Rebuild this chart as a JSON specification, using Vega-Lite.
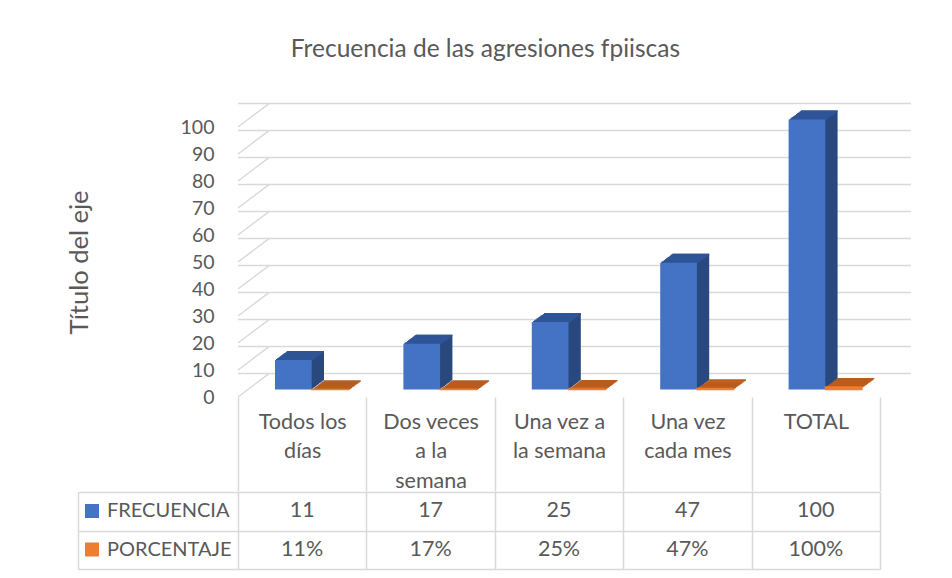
{
  "$schema": "https://vega.github.io/schema/vega-lite/v6.json",
  "autosize": "none",
  "padding": {"left": 238, "top": 127, "right": 72, "bottom": 451},
  "background": "white",
  "title": {"text": "Frecuencia de las agresiones fpiiscas", "fontSize": 24.5, "fontWeight": "normal", "color": "#595959", "font": "Lato", "anchor": "middle", "frame": "bounds", "offset": 40, "dx": -4},
  "datasets": {
    "bars": [
      {"cat": "Todos los días", "series": "FRECUENCIA", "value": 11},
      {"cat": "Dos veces a la semana", "series": "FRECUENCIA", "value": 17},
      {"cat": "Una vez a la semana", "series": "FRECUENCIA", "value": 25},
      {"cat": "Una vez cada mes", "series": "FRECUENCIA", "value": 47},
      {"cat": "TOTAL", "series": "FRECUENCIA", "value": 100},
      {"cat": "Todos los días", "series": "PORCENTAJE", "value": 0.11},
      {"cat": "Dos veces a la semana", "series": "PORCENTAJE", "value": 0.17},
      {"cat": "Una vez a la semana", "series": "PORCENTAJE", "value": 0.25},
      {"cat": "Una vez cada mes", "series": "PORCENTAJE", "value": 0.47},
      {"cat": "TOTAL", "series": "PORCENTAJE", "value": 1}
    ],
    "ticks": [{"value": 0}, {"value": 10}, {"value": 20}, {"value": 30}, {"value": 40}, {"value": 50}, {"value": 60}, {"value": 70}, {"value": 80}, {"value": 90}, {"value": 100}]
  },
  "bounds": "flush",
  "spacing": 95,
  "config": {
    "view": {"stroke": null},
    "font": "Lato",
    "axis": {"labelFont": "Lato", "titleFont": "Lato"},
    "legend": {"labelFont": "Lato"}
  },
  "vconcat": [
    {
      "width": 642,
      "height": 270,
      "encoding": {
        "y": {"field": "value", "type": "quantitative", "scale": {"domain": [0, 100], "nice": false},
          "axis": {"title": "Título del eje", "values": [0, 10, 20, 30, 40, 50, 60, 70, 80, 90, 100], "labelOverlap": false, "domain": false, "ticks": false, "grid": false, "labelPadding": 24, "labelFontSize": 19.5, "labelColor": "#595959", "titleFontSize": 25.5, "titleFontWeight": "normal", "titleColor": "#595959", "titlePadding": 88}}
      },
      "layer": [
        {
          "data": {"name": "ticks"},
          "mark": {"type": "rule", "color": "#D9D9D9", "strokeWidth": 1.5, "xOffset": 31, "x2Offset": 31, "yOffset": -23.4}
        },
        {
          "data": {"name": "ticks"},
          "mark": {"type": "rule", "color": "#D9D9D9", "strokeWidth": 1.5, "y2Offset": -23.4},
          "encoding": {
            "y2": {"field": "value"},
            "x": {"value": 0},
            "x2": {"value": 31}
          }
        },
        {
          "data": {"name": "bars"},
          "encoding": {
            "x": {"field": "cat", "type": "nominal", "sort": null, "scale": {"paddingInner": 0, "paddingOuter": 0},
              "axis": {"title": null, "domain": false, "ticks": true, "tickBand": "extent", "tickSize": 94, "tickColor": "#D9D9D9", "tickWidth": 1.5, "labelAngle": 0, "labelBaseline": "top", "labelLineHeight": 29.5, "labelPadding": -80, "labelFontSize": 21.5, "labelColor": "#595959", "labelLimit": 0,
                "labelExpr": "datum.value === 'Todos los días' ? ['Todos los', 'días'] : datum.value === 'Dos veces a la semana' ? ['Dos veces', 'a la', 'semana'] : datum.value === 'Una vez a la semana' ? ['Una vez a', 'la semana'] : datum.value === 'Una vez cada mes' ? ['Una vez', 'cada mes'] : datum.label"}}
          },
          "layer": [
            {"transform": [{"filter": "datum.series === 'FRECUENCIA'"}], "mark": {"type": "bar", "width": 36.7, "fill": "#29487E", "xOffset": -7.62, "yOffset": -8.3, "y2Offset": -8.3}},
            {"transform": [{"filter": "datum.series === 'FRECUENCIA'"}], "mark": {"type": "bar", "width": 36.7, "fill": "#29487E", "xOffset": -6.39, "yOffset": -9.2, "y2Offset": -9.2}},
            {"transform": [{"filter": "datum.series === 'FRECUENCIA'"}], "mark": {"type": "bar", "width": 36.7, "fill": "#29487E", "xOffset": -5.16, "yOffset": -10.1, "y2Offset": -10.1}},
            {"transform": [{"filter": "datum.series === 'FRECUENCIA'"}], "mark": {"type": "bar", "width": 36.7, "fill": "#29487E", "xOffset": -3.93, "yOffset": -11.0, "y2Offset": -11.0}},
            {"transform": [{"filter": "datum.series === 'FRECUENCIA'"}], "mark": {"type": "bar", "width": 36.7, "fill": "#29487E", "xOffset": -2.7, "yOffset": -11.9, "y2Offset": -11.9}},
            {"transform": [{"filter": "datum.series === 'FRECUENCIA'"}], "mark": {"type": "bar", "width": 36.7, "fill": "#29487E", "xOffset": -1.47, "yOffset": -12.8, "y2Offset": -12.8}},
            {"transform": [{"filter": "datum.series === 'FRECUENCIA'"}], "mark": {"type": "bar", "width": 36.7, "fill": "#29487E", "xOffset": -0.24, "yOffset": -13.7, "y2Offset": -13.7}},
            {"transform": [{"filter": "datum.series === 'FRECUENCIA'"}], "mark": {"type": "bar", "width": 36.7, "fill": "#29487E", "xOffset": 0.99, "yOffset": -14.6, "y2Offset": -14.6}},
            {"transform": [{"filter": "datum.series === 'FRECUENCIA'"}], "mark": {"type": "bar", "width": 36.7, "fill": "#29487E", "xOffset": 2.22, "yOffset": -15.5, "y2Offset": -15.5}},
            {"transform": [{"filter": "datum.series === 'FRECUENCIA'"}], "mark": {"type": "bar", "width": 36.7, "fill": "#29487E", "xOffset": 3.45, "yOffset": -16.4, "y2Offset": -16.4}},
            {"transform": [{"filter": "datum.series === 'FRECUENCIA'"}], "mark": {"type": "bar", "width": 36.7, "fill": "#2F5597", "xOffset": -7.62, "yOffset": -8.3, "y2Offset": -6.7}, "encoding": {"y2": {"field": "value"}}},
            {"transform": [{"filter": "datum.series === 'FRECUENCIA'"}], "mark": {"type": "bar", "width": 36.7, "fill": "#2F5597", "xOffset": -6.39, "yOffset": -9.2, "y2Offset": -7.6}, "encoding": {"y2": {"field": "value"}}},
            {"transform": [{"filter": "datum.series === 'FRECUENCIA'"}], "mark": {"type": "bar", "width": 36.7, "fill": "#2F5597", "xOffset": -5.16, "yOffset": -10.1, "y2Offset": -8.5}, "encoding": {"y2": {"field": "value"}}},
            {"transform": [{"filter": "datum.series === 'FRECUENCIA'"}], "mark": {"type": "bar", "width": 36.7, "fill": "#2F5597", "xOffset": -3.93, "yOffset": -11.0, "y2Offset": -9.4}, "encoding": {"y2": {"field": "value"}}},
            {"transform": [{"filter": "datum.series === 'FRECUENCIA'"}], "mark": {"type": "bar", "width": 36.7, "fill": "#2F5597", "xOffset": -2.7, "yOffset": -11.9, "y2Offset": -10.3}, "encoding": {"y2": {"field": "value"}}},
            {"transform": [{"filter": "datum.series === 'FRECUENCIA'"}], "mark": {"type": "bar", "width": 36.7, "fill": "#2F5597", "xOffset": -1.47, "yOffset": -12.8, "y2Offset": -11.2}, "encoding": {"y2": {"field": "value"}}},
            {"transform": [{"filter": "datum.series === 'FRECUENCIA'"}], "mark": {"type": "bar", "width": 36.7, "fill": "#2F5597", "xOffset": -0.24, "yOffset": -13.7, "y2Offset": -12.1}, "encoding": {"y2": {"field": "value"}}},
            {"transform": [{"filter": "datum.series === 'FRECUENCIA'"}], "mark": {"type": "bar", "width": 36.7, "fill": "#2F5597", "xOffset": 0.99, "yOffset": -14.6, "y2Offset": -13.0}, "encoding": {"y2": {"field": "value"}}},
            {"transform": [{"filter": "datum.series === 'FRECUENCIA'"}], "mark": {"type": "bar", "width": 36.7, "fill": "#2F5597", "xOffset": 2.22, "yOffset": -15.5, "y2Offset": -13.9}, "encoding": {"y2": {"field": "value"}}},
            {"transform": [{"filter": "datum.series === 'FRECUENCIA'"}], "mark": {"type": "bar", "width": 36.7, "fill": "#2F5597", "xOffset": 3.45, "yOffset": -16.4, "y2Offset": -14.8}, "encoding": {"y2": {"field": "value"}}},
            {"transform": [{"filter": "datum.series === 'FRECUENCIA'"}], "mark": {"type": "bar", "width": 36.7, "xOffset": -8.85, "yOffset": -7.4, "y2Offset": -7.4},
              "encoding": {"color": {"field": "series", "type": "nominal", "scale": {"domain": ["FRECUENCIA", "PORCENTAJE"], "range": ["#4472C4", "#ED7D31"]},
                "legend": {"title": null, "orient": "none", "legendX": -156, "legendY": 374, "direction": "vertical", "symbolType": "square", "symbolSize": 196, "symbolStrokeWidth": 0, "labelFontSize": 20, "labelColor": "#595959", "labelOffset": 5, "rowPadding": 18.5, "padding": 0}}}},
            {"transform": [{"filter": "datum.series === 'PORCENTAJE'"}], "mark": {"type": "bar", "width": 36.7, "fill": "#B65D20", "xOffset": 29.08, "yOffset": -8.3, "y2Offset": -6.7}, "encoding": {"y2": {"field": "value"}}},
            {"transform": [{"filter": "datum.series === 'PORCENTAJE'"}], "mark": {"type": "bar", "width": 36.7, "fill": "#B65D20", "xOffset": 30.31, "yOffset": -9.2, "y2Offset": -7.6}, "encoding": {"y2": {"field": "value"}}},
            {"transform": [{"filter": "datum.series === 'PORCENTAJE'"}], "mark": {"type": "bar", "width": 36.7, "fill": "#B65D20", "xOffset": 31.54, "yOffset": -10.1, "y2Offset": -8.5}, "encoding": {"y2": {"field": "value"}}},
            {"transform": [{"filter": "datum.series === 'PORCENTAJE'"}], "mark": {"type": "bar", "width": 36.7, "fill": "#B65D20", "xOffset": 32.77, "yOffset": -11.0, "y2Offset": -9.4}, "encoding": {"y2": {"field": "value"}}},
            {"transform": [{"filter": "datum.series === 'PORCENTAJE'"}], "mark": {"type": "bar", "width": 36.7, "fill": "#B65D20", "xOffset": 34.0, "yOffset": -11.9, "y2Offset": -10.3}, "encoding": {"y2": {"field": "value"}}},
            {"transform": [{"filter": "datum.series === 'PORCENTAJE'"}], "mark": {"type": "bar", "width": 36.7, "fill": "#B65D20", "xOffset": 35.23, "yOffset": -12.8, "y2Offset": -11.2}, "encoding": {"y2": {"field": "value"}}},
            {"transform": [{"filter": "datum.series === 'PORCENTAJE'"}], "mark": {"type": "bar", "width": 36.7, "fill": "#B65D20", "xOffset": 36.46, "yOffset": -13.7, "y2Offset": -12.1}, "encoding": {"y2": {"field": "value"}}},
            {"transform": [{"filter": "datum.series === 'PORCENTAJE'"}], "mark": {"type": "bar", "width": 36.7, "fill": "#B65D20", "xOffset": 37.69, "yOffset": -14.6, "y2Offset": -13.0}, "encoding": {"y2": {"field": "value"}}},
            {"transform": [{"filter": "datum.series === 'PORCENTAJE'"}], "mark": {"type": "bar", "width": 36.7, "fill": "#B65D20", "xOffset": 38.92, "yOffset": -15.5, "y2Offset": -13.9}, "encoding": {"y2": {"field": "value"}}},
            {"transform": [{"filter": "datum.series === 'PORCENTAJE'"}], "mark": {"type": "bar", "width": 36.7, "fill": "#B65D20", "xOffset": 40.15, "yOffset": -16.4, "y2Offset": -14.8}, "encoding": {"y2": {"field": "value"}}},
            {"transform": [{"filter": "datum.series === 'PORCENTAJE'"}], "mark": {"type": "bar", "width": 36.7, "xOffset": 27.85, "yOffset": -7.4, "y2Offset": -7.4, "stroke": "#ED7D31", "strokeWidth": 1.2},
              "encoding": {"color": {"field": "series", "type": "nominal"}}}
          ]
        }
      ]
    },
    {
      "width": 642,
      "height": 77,
      "data": {"name": "bars"},
      "transform": [{"calculate": "datum.series === 'PORCENTAJE' ? format(datum.value, '.0%') : format(datum.value, 'd')", "as": "txt"}],
      "mark": {"type": "text", "fontSize": 21.5, "color": "#595959", "font": "Lato"},
      "encoding": {
        "x": {"field": "cat", "type": "nominal", "sort": null, "scale": {"paddingInner": 0, "paddingOuter": 0},
          "axis": {"title": null, "labels": false, "ticks": false, "domain": false, "grid": true, "gridColor": "#D9D9D9", "gridWidth": 1.5, "tickBand": "extent"}},
        "y": {"field": "series", "type": "nominal", "sort": null, "scale": {"paddingInner": 0, "paddingOuter": 0},
          "axis": {"title": null, "orient": "left", "offset": 160, "labels": false, "domain": true, "domainColor": "#D9D9D9", "domainWidth": 1.5, "ticks": true, "tickSize": -160, "tickColor": "#D9D9D9", "tickWidth": 1.5, "tickBand": "extent", "grid": true, "gridColor": "#D9D9D9", "gridWidth": 1.5}},
        "text": {"field": "txt"}
      }
    }
  ]
}
